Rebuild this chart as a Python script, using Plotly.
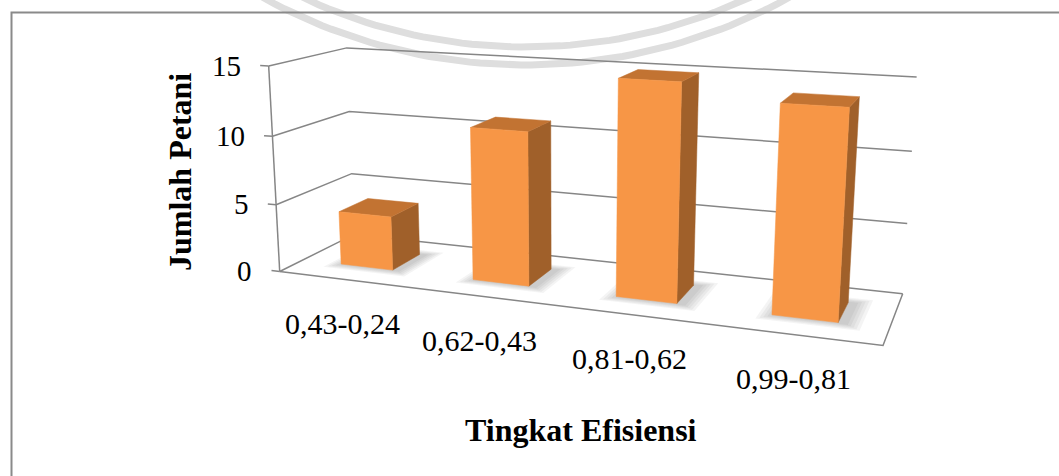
import numpy as np
import plotly.graph_objects as go

# ---- data ----
categories = ["0,43-0,24", "0,62-0,43", "0,81-0,62", "0,99-0,81"]
values = [4, 11, 15, 14]
ticks = [0, 5, 10, 15]

# ---- 3D scene: floor is 4 category units wide, 1 unit deep ----
N_CAT = len(categories)
DEPTH = 1.0
BAR_W = 0.4            # bar width/depth in category units
UNIT_H = 0.0933        # world height of one value unit

# perspective camera (eye position, yaw, pitch, focal length, principal point)
EYE = np.array([4.7244, -7.0525, 2.5680])
YAW, PITCH = 0.3617, 0.2327
FOCAL = 1275.34
CX, CY = 563.65, 184.11

_f = np.array([-np.sin(YAW) * np.cos(PITCH), np.cos(YAW) * np.cos(PITCH), -np.sin(PITCH)])
_r = np.array([np.cos(YAW), np.sin(YAW), 0.0])
_u = np.array([-np.sin(YAW) * np.sin(PITCH), np.cos(YAW) * np.sin(PITCH), np.cos(PITCH)])


def proj(x, y, v):
    """Project (category position, depth, value) onto the drawing plane."""
    w = np.array([x, y, v * UNIT_H]) - EYE
    d = w @ _f
    return float(CX + FOCAL * (w @ _r) / d), float(CY - FOCAL * (w @ _u) / d)


fig = go.Figure()
GRID = "#868686"


def line(pts, color=GRID, width=1.5):
    fig.add_trace(go.Scatter(x=[a for a, b in pts], y=[b for a, b in pts], mode="lines",
                             line=dict(color=color, width=width),
                             hoverinfo="skip", showlegend=False))


def poly(pts, color, lw=0.5, name=None, hover=None):
    xs = [a for a, b in pts] + [pts[0][0]]
    ys = [b for a, b in pts] + [pts[0][1]]
    fig.add_trace(go.Scatter(x=xs, y=ys, mode="lines", fill="toself", fillcolor=color,
                             line=dict(color=color, width=lw), name=name,
                             hoverinfo="text" if hover else "skip", text=hover,
                             showlegend=False))


# faint background watermark rings
wx, wy = 526, -483
for R in (530, 548):
    a = np.linspace(np.pi * 0.5 - 0.55, np.pi * 0.5 + 0.55, 60)
    fig.add_trace(go.Scatter(x=wx + R * np.cos(a), y=wy + R * np.sin(a), mode="lines",
                             line=dict(color="#dedede", width=7),
                             hoverinfo="skip", showlegend=False))

# side wall + back wall gridlines
for t in ticks:
    line([proj(0, 0, t), proj(0, DEPTH, t), proj(N_CAT, DEPTH, t)])
# vertical axis, floor outline and tick marks
line([proj(0, 0, 0), proj(0, 0, ticks[-1])])
line([proj(0, 0, 0), proj(N_CAT, 0, 0), proj(N_CAT, DEPTH, 0)])
for t in ticks:
    line([proj(-0.065, 0, t), proj(0, 0, t)])

y0, y1 = (DEPTH - BAR_W) / 2, (DEPTH + BAR_W) / 2

# soft shadows on the floor
for i, v in enumerate(values):
    x0, x1 = i + 0.5 - BAR_W / 2, i + 0.5 + BAR_W / 2
    for k in range(1, 6):
        e = 0.02 * k
        poly([proj(x0 - e + 0.02, y0 - e, 0), proj(x1 + e + 0.04, y0 - e, 0),
              proj(x1 + e + 0.04, y1 + e, 0), proj(x0 - e + 0.02, y1 + e, 0)],
             "rgba(60,60,60,0.06)", lw=0)

# bars: right side, top, front
for i, (c, v) in enumerate(zip(categories, values)):
    x0, x1 = i + 0.5 - BAR_W / 2, i + 0.5 + BAR_W / 2
    poly([proj(x1, y0, 0), proj(x1, y1, 0), proj(x1, y1, v), proj(x1, y0, v)], "#A0602A")
    poly([proj(x0, y0, v), proj(x1, y0, v), proj(x1, y1, v), proj(x0, y1, v)], "#C27332")
    poly([proj(x0, y0, 0), proj(x1, y0, 0), proj(x1, y0, v), proj(x0, y0, v)], "#F79646",
         name=c, hover=f"{c}: {v}")

ann = []
for t in ticks:
    x, y = proj(-0.065, 0, t)
    ann.append(dict(x=x, y=y, text=str(t), showarrow=False, xanchor="right", yanchor="middle",
                    xshift=-17, font=dict(family="Liberation Serif", size=29, color="black")))
for i, c in enumerate(categories):
    x, y = proj(i + 0.5, 0, 0)
    ann.append(dict(x=x, y=y, text=c, showarrow=False, xanchor="center", yanchor="middle",
                    xshift=-2, yshift=-44,
                    font=dict(family="Liberation Serif", size=30, color="black")))
ann.append(dict(x=180, y=172, text="<b>Jumlah Petani</b>", textangle=-90, showarrow=False,
                font=dict(family="Liberation Serif", size=32, color="black")))
ann.append(dict(x=581, y=430, text="<b>Tingkat Efisiensi</b>", showarrow=False,
                font=dict(family="Liberation Serif", size=32, color="black")))

fig.update_layout(
    width=1059, height=476, margin=dict(l=0, r=0, t=0, b=0),
    paper_bgcolor="white", plot_bgcolor="white", annotations=ann,
    xaxis=dict(range=[0, 1059], visible=False, fixedrange=True),
    yaxis=dict(range=[476, 0], visible=False, fixedrange=True),
    shapes=[dict(type="rect", x0=11.5, y0=12.5, x1=1070, y1=490,
                 line=dict(color="#8a8a8a", width=2))],
)
fig.write_html("out.html")
